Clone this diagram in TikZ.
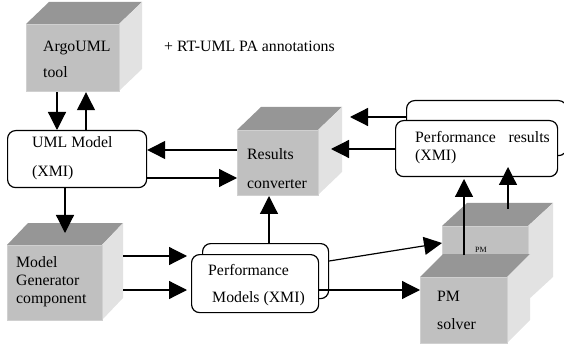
\documentclass[tikz,border=0pt]{standalone}
\usepackage{fontspec}
\setmainfont{Liberation Serif}
\usetikzlibrary{arrows.meta}
\definecolor{cubetopc}{RGB}{150,150,150}
\definecolor{cubefrontc}{RGB}{192,192,192}
\definecolor{cubeedgec}{RGB}{208,208,208}
\definecolor{cubesidec}{RGB}{226,226,226}
\tikzset{
  lbl/.style={inner sep=0pt, anchor=base west, font=\fontsize{15.8}{18}\selectfont},
  smalllbl/.style={inner sep=0pt, anchor=base west, font=\fontsize{8}{10}\selectfont},
  roundbox/.style={draw, line width=1.2pt, rounded corners=8pt, fill=white},
  arr/.style={line width=1.2pt, -{Triangle[length=18pt,width=18pt]}},
  cubefront/.style={fill=cubefrontc, inner sep=0pt, anchor=north west, draw=cubeedgec, line width=1.2pt}
}
% name, x1, y1, x2, y2, dx, dy
\newcommand\mycube[7]{%
  \fill[cubetopc] (#2,#3) -- (#2+#6,#3-#7) -- (#4+#6,#3-#7) -- (#4,#3) -- cycle;
  \fill[cubesidec] (#4,#3) -- (#4+#6,#3-#7) -- (#4+#6,#5-#7) -- (#4,#5) -- cycle;
  \node[cubefront, minimum width={#4-#2}, minimum height={#5-#3}] (#1) at (#2,#3) {};
}
\begin{document}
\begin{tikzpicture}[x=1pt,y=-1pt]
\useasboundingbox (0,0) rectangle (564,347);

% cubes
\mycube{argo}{26}{24}{119}{91}{23}{22}
\mycube{conv}{237}{130}{318}{195}{24}{23}
\mycube{gen}{7}{245}{102}{320}{21}{22}
\mycube{pmback}{442}{226}{528}{300}{25}{23}
\mycube{pmsolver}{420}{277}{507}{343}{23}{23}

% rounded boxes
\node[roundbox, minimum width=139pt, minimum height=57pt, anchor=north west] (uml) at (7,130) {};
\node[roundbox, minimum width=160pt, minimum height=55pt, anchor=north west] (resback) at (406,100) {};
\node[roundbox, minimum width=162pt, minimum height=56pt, anchor=north west] (resfront) at (395,120) {};
\node[roundbox, minimum width=126pt, minimum height=55pt, anchor=north west] (pmodback) at (202,243) {};
\node[roundbox, minimum width=127pt, minimum height=58pt, anchor=north west] (pmodfront) at (191,254) {};

% texts
\node[lbl] (t1) at (43,52) {ArgoUML};
\node[lbl] (t2) at (43,78) {tool};
\node[lbl] (t3) at (164,52) {+ RT-UML PA annotations};
\node[lbl] (t4) at (32,148) {UML Model};
\node[lbl] (t5) at (32,177) {(XMI)};
\node[lbl] (t6) at (247,160) {Results};
\node[lbl] (t7) at (247,189) {converter};
\node[lbl] (t8) at (415,143) {Performance};
\node[lbl, anchor=base east] (t9) at (550,143) {results};
\node[lbl] (t10) at (415,161) {(XMI)};
\node[lbl] (t11) at (16,267) {Model};
\node[lbl] (t12) at (16,285) {Generator};
\node[lbl] (t13) at (16,303) {component};
\node[lbl] (t14) at (208,275) {Performance};
\node[lbl] (t15) at (212,302) {Models (XMI)};
\node[smalllbl] (t16) at (475,252) {PM};
\node[lbl] (t17) at (437,301) {PM};
\node[lbl] (t18) at (437,329) {solver};

% connectors
\coordinate (genTop) at (65,233);
\coordinate (pmbTop) at (508,209);
\coordinate (pmsTop) at (464,255);
\draw[arr] (argo.south -| 57,0) -- (uml.north -| 57,0);
\draw[arr] (uml.north -| 86,0) -- (argo.south -| 86,0);
\draw[arr] (conv.west |- 0,150) -- (uml.east |- 0,150);
\draw[arr] (uml.east |- 0,178) -- (conv.west |- 0,178);
\draw[arr] (uml.south -| genTop) -- (genTop);
\draw[arr] (123,256) -- (187,256);
\draw[arr] (123,290) -- (187,290);
\draw[arr] (pmodback.north -| 269,0) -- (269,196);
\draw[arr] (pmodback.east |- 0,261) -- (442,243);
\draw[arr] (pmodfront.east |- 0,290) -- (pmsolver.west |- 0,290);
\draw[arr] (pmsTop) -- (464,179);
\draw[arr] (pmbTop) -- (508,167);
\draw[arr] (resback.west |- 0,117) -- (350,117);
\draw[arr] (resfront.west |- 0,149) -- (331,149);
\end{tikzpicture}
\end{document}
